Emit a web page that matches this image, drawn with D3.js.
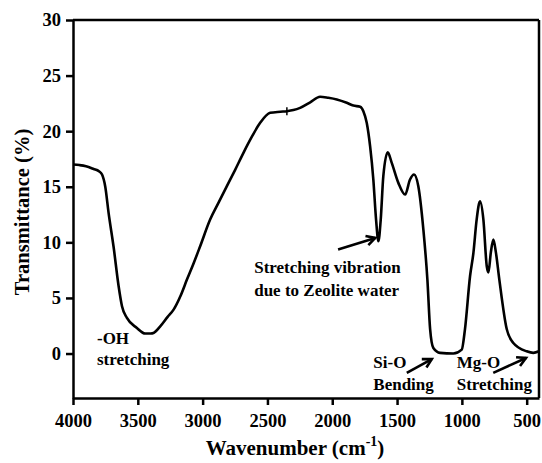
<!DOCTYPE html>
<html>
<head>
<meta charset="utf-8">
<script src="https://cdn.jsdelivr.net/npm/d3@7"></script>
<style>
  html, body { margin: 0; padding: 0; background: #fff; }
  svg text { font-family: "Liberation Serif", "Times New Roman", serif; font-weight: bold; fill: #000; }
</style>
</head>
<body>
<svg id="chart" width="542" height="463"></svg>
<script>
// ---- data ----
const wavenumber = [4000, 3950, 3900, 3841, 3800, 3776, 3751, 3726, 3687, 3648, 3622, 3584, 3507, 3443, 3400, 3379, 3327, 3270, 3224, 3170, 3121, 3070, 3019, 2942, 2880, 2813, 2750, 2685, 2620, 2556, 2479, 2400, 2350, 2300, 2248, 2170, 2094, 2030, 1965, 1888, 1837, 1785, 1760, 1734, 1708, 1683, 1662, 1644, 1626, 1606, 1572, 1541, 1490, 1438, 1400, 1369, 1336, 1297, 1266, 1245, 1220, 1168, 1066, 1001, 976, 937, 911, 886, 860, 834, 808, 795, 777, 757, 737, 711, 654, 603, 500, 449, 405];
const transmittance = [17.0, 16.95, 16.85, 16.6, 16.4, 16.1, 15.0, 12.7, 9.6, 6.05, 4.25, 3.2, 2.3, 1.8, 1.8, 1.85, 2.45, 3.3, 3.95, 5.2, 6.65, 8.1, 9.65, 12.05, 13.5, 15.05, 16.5, 18.05, 19.5, 20.75, 21.65, 21.75, 21.8, 21.9, 22.1, 22.6, 23.1, 23.0, 22.85, 22.55, 22.3, 22.2, 21.8, 20.75, 18.65, 15.65, 12.05, 10.1, 12.05, 15.95, 18.1, 17.15, 15.35, 14.3, 15.65, 16.1, 15.05, 11.15, 6.65, 2.2, 0.5, 0.06, 0.0, 0.35, 2.2, 6.95, 9.05, 12.05, 13.7, 12.05, 7.85, 7.3, 9.05, 10.25, 9.05, 6.65, 2.2, 0.95, 0.2, 0.06, 0.2];
const xTicks = [4000, 3500, 3000, 2500, 2000, 1500, 1000, 500];
const yTicks = [0, 5, 10, 15, 20, 25, 30];
const xDomain = [4000, 405];
const yDomain = [-4, 30];
const spikeMark = [2350, 21.8];

// annotations: text lines (anchor in data coords) and arrows (tail -> tip)
const labelLines = [
  ["-OH", 3815, 0.87], ["stretching", 3815, -0.99],
  ["Stretching vibration", 2602, 7.2], ["due to Zeolite water", 2602, 5.2],
  ["Si-O", 1683, -1.26], ["Bending", 1683, -3.24],
  ["Mg-O", 1040, -1.26], ["Stretching", 1040, -3.24]
];
const arrows = [
  [[1955, 9.35], [1668, 10.4]],
  [[1425, -1.74], [1232, -0.5]],
  [[758, -1.74], [505, -0.4]]
];

// ---- layout ----
const svg = d3.select("#chart");
const mLeft = 73, mRight = 539, mTop = 20, mBottom = 398;
const x = d3.scaleLinear().domain(xDomain).range([mLeft, mRight]);
const y = d3.scaleLinear().domain(yDomain).range([mBottom, mTop]);

svg.append("rect").attr("width", 542).attr("height", 463).attr("fill", "#fff");

// frame top & right
svg.append("line").attr("x1", mLeft).attr("x2", mRight).attr("y1", mTop).attr("y2", mTop)
  .attr("stroke", "#000").attr("stroke-width", 2.5);
svg.append("line").attr("x1", mRight).attr("x2", mRight).attr("y1", mTop).attr("y2", mBottom)
  .attr("stroke", "#000").attr("stroke-width", 2.5);

// axes
const xAxis = d3.axisBottom(x).tickValues(xTicks).tickSize(7).tickPadding(9).tickSizeOuter(0).tickFormat(d3.format("d"));
const yAxis = d3.axisLeft(y).tickValues(yTicks).tickSize(7).tickPadding(5).tickSizeOuter(0);
const gx = svg.append("g").attr("transform", `translate(0,${mBottom})`).call(xAxis);
const gy = svg.append("g").attr("transform", `translate(${mLeft},0)`).call(yAxis);
[gx, gy].forEach(g => {
  g.select(".domain").attr("stroke", "#000").attr("stroke-width", 2.5);
  g.selectAll(".tick line").attr("stroke", "#000").attr("stroke-width", 2.5);
  g.selectAll(".tick text").attr("font-size", 18.5).attr("font-family", "Liberation Serif, serif").attr("font-weight", "bold").attr("fill", "#000");
});

// axis titles
svg.append("text").attr("transform", "rotate(-90)").attr("x", -(mTop + mBottom) / 2 - 3).attr("y", 29)
  .attr("text-anchor", "middle").attr("font-size", 20.5).text("Transmittance (%)");
const xt = svg.append("text").attr("x", 295).attr("y", 455).attr("text-anchor", "middle").attr("font-size", 21);
xt.append("tspan").text("Wavenumber (cm");
xt.append("tspan").attr("font-size", 14).attr("dy", -9).text("-1");
xt.append("tspan").attr("dy", 9).text(")");

// spectrum
const pts = wavenumber.map((w, i) => [w, transmittance[i]]);
const line = d3.line().x(d => x(d[0])).y(d => y(d[1])).curve(d3.curveMonotoneX);
svg.append("path").datum(pts).attr("d", line).attr("fill", "none")
  .attr("stroke", "#000").attr("stroke-width", 2.6).attr("stroke-linejoin", "round");
svg.append("line").attr("x1", x(spikeMark[0])).attr("x2", x(spikeMark[0]))
  .attr("y1", y(spikeMark[1]) - 4).attr("y2", y(spikeMark[1]) + 4)
  .attr("stroke", "#000").attr("stroke-width", 1.5);

// annotation text
svg.selectAll("text.ann").data(labelLines).enter().append("text").attr("class", "ann")
  .attr("x", d => x(d[1])).attr("y", d => y(d[2])).attr("font-size", 17).text(d => d[0]);

// arrows
svg.selectAll("g.arrow").data(arrows).enter().append("g").attr("class", "arrow").each(function(d) {
  const g = d3.select(this);
  const x1 = x(d[0][0]), y1 = y(d[0][1]), x2 = x(d[1][0]), y2 = y(d[1][1]);
  g.append("line").attr("x1", x1).attr("y1", y1).attr("x2", x2).attr("y2", y2)
    .attr("stroke", "#000").attr("stroke-width", 2.6);
  const a = Math.atan2(y2 - y1, x2 - x1), L = 10, s = 0.5;
  const p1 = [x2 - L * Math.cos(a - s), y2 - L * Math.sin(a - s)];
  const p2 = [x2 - L * Math.cos(a + s), y2 - L * Math.sin(a + s)];
  g.append("path").attr("d", `M${p1[0]},${p1[1]}L${x2},${y2}L${p2[0]},${p2[1]}`)
    .attr("fill", "none").attr("stroke", "#000").attr("stroke-width", 2.6).attr("stroke-linejoin", "miter");
});
</script>
</body>
</html>
